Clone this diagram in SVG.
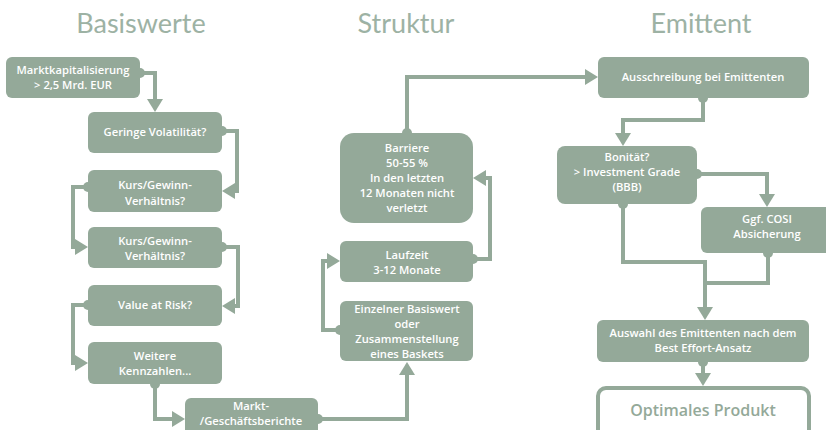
<svg xmlns="http://www.w3.org/2000/svg" width="826" height="430" viewBox="0 0 826 430">
<style>
.box{fill:#94a999}
.t{font-family:"Open Sans","DejaVu Sans",sans-serif;font-weight:600;font-size:11.2px;fill:#ffffff;text-anchor:middle}
.h{font-family:Lato,"Open Sans",sans-serif;font-size:27px;fill:#9db2a4;text-anchor:middle}
.c{fill:none;stroke:#94a999;stroke-width:4;marker-end:url(#ah)}
.c2{fill:none;stroke:#94a999;stroke-width:4}
.dot{fill:#94a999}
</style>
<defs>
<marker id="ah" viewBox="0 -8 13 16" refX="0" refY="0" markerWidth="13" markerHeight="16" markerUnits="userSpaceOnUse" orient="auto">
<path d="M0,-8 L13,0 L0,8 z" fill="#94a999"/>
</marker>
</defs>
<rect width="826" height="430" fill="#ffffff"/>
<g id="headers">
<text class="h" x="141" y="33">Basiswerte</text>
<text class="h" x="406" y="33">Struktur</text>
<text class="h" x="701" y="33">Emittent</text>
</g>
<g id="connectors">
<circle class="dot" cx="140" cy="73" r="5"/>
<path class="c" d="M140,73 H155 V99"/>
<circle class="dot" cx="222" cy="131" r="5"/>
<path class="c" d="M222,131 H237 V191 H235"/>
<circle class="dot" cx="88" cy="187" r="5"/>
<path class="c" d="M88,187 H73 V247 H75"/>
<circle class="dot" cx="222" cy="247" r="5"/>
<path class="c" d="M222,247 H238 V306 H235"/>
<circle class="dot" cx="88" cy="305" r="5"/>
<path class="c" d="M88,305 H73 V363 H75"/>
<circle class="dot" cx="155" cy="384" r="5"/>
<path class="c" d="M155,384 V419 H172"/>
<circle class="dot" cx="318" cy="419" r="5"/>
<path class="c" d="M318,419 H407 V375"/>
<circle class="dot" cx="340" cy="330" r="5"/>
<path class="c" d="M340,330 H323 V261 H327"/>
<circle class="dot" cx="473" cy="259" r="5"/>
<path class="c" d="M473,259 H490 V178 H486"/>
<circle class="dot" cx="407" cy="133" r="5"/>
<path class="c" d="M407,133 V77 H585"/>
<circle class="dot" cx="703" cy="98" r="5"/>
<path class="c" d="M703,98 V120 H623 V133"/>
<circle class="dot" cx="697" cy="174" r="5"/>
<path class="c" d="M697,174 H767 V194"/>
<circle class="dot" cx="623" cy="204" r="5"/>
<path class="c2" d="M623,204 V262 H705"/>
<circle class="dot" cx="768" cy="253" r="5"/>
<path class="c2" d="M768,253 V283 H705"/>
<path class="c" d="M705,260 V307"/>
<circle class="dot" cx="703" cy="362" r="5"/>
<path class="c" d="M703,362 V373"/>
</g>
<g id="n-marktkap">
<rect class="box" x="6" y="57" width="134" height="41" rx="6"/>
<text class="t" x="73" y="74">Marktkapitalisierung</text>
<text class="t" x="73" y="89">&gt; 2,5 Mrd. EUR</text>
</g>
<g id="n-volatilitaet">
<rect class="box" x="88" y="112" width="134" height="41" rx="6"/>
<text class="t" x="155" y="136">Geringe Volatilität?</text>
</g>
<g id="n-kgv1">
<rect class="box" x="88" y="170" width="134" height="42" rx="6"/>
<text class="t" x="155" y="189">Kurs/Gewinn-</text>
<text class="t" x="155" y="205">Verhältnis?</text>
</g>
<g id="n-kgv2">
<rect class="box" x="88" y="227" width="134" height="41" rx="6"/>
<text class="t" x="155" y="245">Kurs/Gewinn-</text>
<text class="t" x="155" y="260">Verhältnis?</text>
</g>
<g id="n-var">
<rect class="box" x="88" y="285" width="134" height="41" rx="6"/>
<text class="t" x="155" y="309">Value at Risk?</text>
</g>
<g id="n-weitere">
<rect class="box" x="88" y="342" width="134" height="42" rx="6"/>
<text class="t" x="155" y="360">Weitere</text>
<text class="t" x="155" y="375">Kennzahlen...</text>
</g>
<g id="n-berichte">
<rect class="box" x="185" y="398" width="133" height="50" rx="6"/>
<text class="t" x="251" y="410">Markt-</text>
<text class="t" x="251" y="425">/Geschäftsberichte</text>
</g>
<g id="n-barriere">
<rect class="box" x="340" y="133" width="133" height="90" rx="14"/>
<text class="t" x="407" y="152">Barriere</text>
<text class="t" x="407" y="167">50-55 %</text>
<text class="t" x="407" y="182">In den letzten</text>
<text class="t" x="407" y="197">12 Monaten nicht</text>
<text class="t" x="407" y="212">verletzt</text>
</g>
<g id="n-laufzeit">
<rect class="box" x="340" y="241" width="133" height="41" rx="6"/>
<text class="t" x="407" y="259">Laufzeit</text>
<text class="t" x="407" y="274">3-12 Monate</text>
</g>
<g id="n-basiswert">
<rect class="box" x="340" y="301" width="133" height="60" rx="6"/>
<text class="t" x="407" y="313">Einzelner Basiswert</text>
<text class="t" x="407" y="328">oder</text>
<text class="t" x="407" y="343">Zusammenstellung</text>
<text class="t" x="407" y="358">eines Baskets</text>
</g>
<g id="n-ausschreibung">
<rect class="box" x="598" y="57" width="211" height="41" rx="6"/>
<text class="t" x="703" y="81">Ausschreibung bei Emittenten</text>
</g>
<g id="n-bonitaet">
<rect class="box" x="557" y="146" width="140" height="58" rx="8"/>
<text class="t" x="627" y="161">Bonität?</text>
<text class="t" x="627" y="176">&gt; Investment Grade</text>
<text class="t" x="627" y="191">(BBB)</text>
</g>
<g id="n-cosi">
<rect class="box" x="701" y="207" width="134" height="46" rx="6"/>
<text class="t" x="767" y="223">Ggf. COSI</text>
<text class="t" x="767" y="238">Absicherung</text>
</g>
<g id="n-auswahl">
<rect class="box" x="597" y="320" width="212" height="42" rx="6"/>
<text class="t" x="703" y="337">Auswahl des Emittenten nach dem</text>
<text class="t" x="703" y="352">Best Effort-Ansatz</text>
</g>
<g id="n-optimal">
<rect x="598" y="388" width="211" height="52" rx="8" fill="#ffffff" stroke="#94a999" stroke-width="4"/>
<text x="703" y="416" style="font-family:'Open Sans','DejaVu Sans',sans-serif;font-weight:600;font-size:16px;fill:#94a999;text-anchor:middle">Optimales Produkt</text>
</g>
</svg>
